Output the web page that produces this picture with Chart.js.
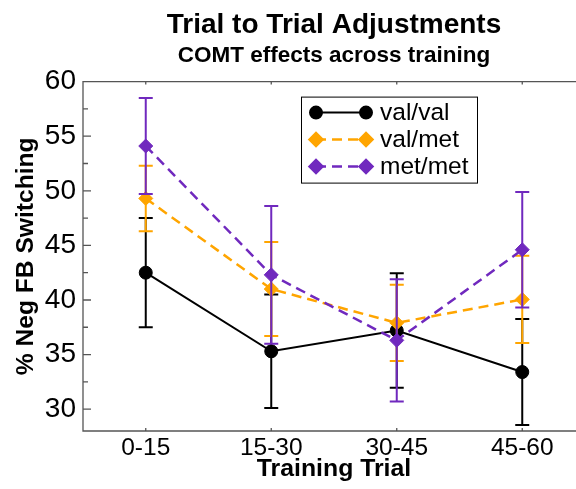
<!DOCTYPE html>
<html>
<head>
<meta charset="utf-8">
<script src="https://cdn.jsdelivr.net/npm/chart.js@4.4.1/dist/chart.umd.min.js"></script>
<style>
  html, body { margin: 0; padding: 0; background: #fff; overflow: hidden; }
  #chart { display: block; }
</style>
</head>
<body>
<canvas id="chart" width="605" height="489"></canvas>
<script>
const trials = ['0-15', '15-30', '30-45', '45-60'];
const valVal = [42.5, 35.3, 37.2, 33.4];
const valValErr = [5.0, 5.2, 5.25, 4.85];
const valMet = [49.3, 41.0, 37.9, 40.05];
const valMetErr = [3.0, 4.3, 3.5, 4.0];
const metMet = [54.1, 42.3, 36.3, 44.6];
const metMetErr = [4.4, 6.3, 5.6, 5.3];
const yTicks = [30, 35, 40, 45, 50, 55, 60];
const yMinorTicks = [32.5, 37.5, 42.5, 47.5, 52.5, 57.5];

const FONT = "'Liberation Sans', Arial, sans-serif";

// axis box: left, top and bottom lines with inward ticks
const axisFrame = {
  id: 'axisFrame',
  beforeDatasetsDraw(chart) {
    const { ctx, chartArea: a, scales: { x, y } } = chart;
    ctx.save();
    ctx.strokeStyle = '#555';
    ctx.lineWidth = 1.3;
    ctx.beginPath();
    ctx.moveTo(a.right, a.top); ctx.lineTo(a.left, a.top);
    ctx.lineTo(a.left, a.bottom); ctx.lineTo(a.right, a.bottom);
    yTicks.forEach(v => {
      const py = y.getPixelForValue(v);
      ctx.moveTo(a.left, py); ctx.lineTo(a.left + 8, py);
    });
    yMinorTicks.forEach(v => {
      const py = y.getPixelForValue(v);
      ctx.moveTo(a.left, py); ctx.lineTo(a.left + 5, py);
    });
    trials.forEach((t, i) => {
      const px = x.getPixelForValue(i);
      ctx.moveTo(px, a.top); ctx.lineTo(px, a.top + 3);
      ctx.moveTo(px, a.bottom); ctx.lineTo(px, a.bottom - 3);
    });
    ctx.stroke();
    ctx.restore();
  }
};

// error bars, drawn right after each dataset so they stack like the lines
const errorBars = {
  id: 'errorBars',
  afterDatasetDraw(chart, args) {
    const ds = chart.data.datasets[args.index];
    if (!ds.errors) return;
    const ctx = chart.ctx;
    const x = chart.scales.x, y = chart.scales.y;
    ctx.save();
    ctx.strokeStyle = ds.borderColor;
    ctx.lineWidth = 2;
    ctx.setLineDash([]);
    ctx.beginPath();
    ds.data.forEach((v, i) => {
      const px = x.getPixelForValue(i);
      const top = y.getPixelForValue(v + ds.errors[i]);
      const bot = y.getPixelForValue(v - ds.errors[i]);
      ctx.moveTo(px, top); ctx.lineTo(px, bot);
      ctx.moveTo(px - 7, top); ctx.lineTo(px + 7, top);
      ctx.moveTo(px - 7, bot); ctx.lineTo(px + 7, bot);
    });
    ctx.stroke();
    ctx.restore();
  }
};

// boxed legend with a marker at each end of the line sample
const boxLegend = {
  id: 'boxLegend',
  afterDraw(chart) {
    const { ctx, chartArea: a } = chart;
    const left = a.left + 218, top = a.top + 15;
    const w = 176, h = 86;
    ctx.save();
    ctx.fillStyle = '#fff';
    ctx.fillRect(left, top, w, h);
    ctx.strokeStyle = '#000';
    ctx.lineWidth = 1;
    ctx.strokeRect(left + 0.5, top + 0.5, w, h);
    chart.data.datasets.forEach((ds, i) => {
      const py = top + 16 + i * 27;
      const x1 = left + 15, x2 = left + 65;
      ctx.strokeStyle = ds.borderColor;
      ctx.lineWidth = ds.borderWidth;
      ctx.setLineDash(ds.borderDash || []);
      ctx.beginPath();
      ctx.moveTo(x1, py); ctx.lineTo(x2, py);
      ctx.stroke();
      ctx.setLineDash([]);
      [x1, x2].forEach(px => {
        Chart.helpers.drawPoint(ctx, {
          pointStyle: ds.pointStyle, radius: ds.pointRadius - 0.5,
          borderWidth: 1, rotation: 0
        }, px, py);
        ctx.fillStyle = ds.backgroundColor;
        ctx.strokeStyle = ds.borderColor;
        ctx.fill();
      });
      ctx.fillStyle = '#000';
      ctx.font = '24.5px ' + FONT;
      ctx.textBaseline = 'middle';
      ctx.textAlign = 'left';
      ctx.fillText(ds.label, left + 79, py + 1);
    });
    ctx.restore();
  }
};

new Chart(document.getElementById('chart'), {
  type: 'line',
  data: {
    labels: trials,
    datasets: [
      {
        label: 'val/val', data: valVal, errors: valValErr,
        borderColor: '#000', backgroundColor: '#000', borderWidth: 2,
        pointStyle: 'circle', pointRadius: 6.5, pointBorderWidth: 1, order: 3
      },
      {
        label: 'val/met', data: valMet, errors: valMetErr,
        borderColor: '#FFA500', backgroundColor: '#FFA500', borderWidth: 2.5,
        borderDash: [10, 6], pointStyle: 'rectRot', pointRadius: 7, pointBorderWidth: 1, order: 2
      },
      {
        label: 'met/met', data: metMet, errors: metMetErr,
        borderColor: '#7029BE', backgroundColor: '#7029BE', borderWidth: 2.5,
        borderDash: [10, 6], pointStyle: 'rectRot', pointRadius: 7, pointBorderWidth: 1, order: 1
      }
    ]
  },
  options: {
    responsive: false,
    animation: false,
    layout: { padding: { left: 0, right: 20, top: 0, bottom: 0 } },
    plugins: {
      legend: { display: false },
      tooltip: { enabled: false },
      title: {
        display: true, text: 'Trial to Trial Adjustments', color: '#000',
        fullSize: false,
        font: { family: FONT, size: 28, weight: 'bold' },
        padding: { top: 8, bottom: 0 }
      },
      subtitle: {
        display: true, text: 'COMT effects across training', color: '#000',
        fullSize: false,
        font: { family: FONT, size: 22.5, weight: 'bold' },
        padding: { top: 1, bottom: 12 }
      }
    },
    scales: {
      x: {
        type: 'category',
        offset: true,
        grid: { display: false, drawTicks: false },
        border: { display: false },
        ticks: { color: '#000', font: { family: FONT, size: 24.5 }, padding: 3, maxRotation: 0 },
        title: {
          display: true, text: 'Training Trial', color: '#000',
          font: { family: FONT, size: 24.8, weight: 'bold' }, padding: { top: 0, bottom: 5 }
        },
        afterFit(s) { s.height = 58; }
      },
      y: {
        min: 28,
        max: 60,
        grid: { display: false, drawTicks: false },
        border: { display: false },
        afterBuildTicks(s) { s.ticks = yTicks.map(v => ({ value: v })); },
        ticks: { color: '#000', font: { family: FONT, size: 28 }, padding: 7 },
        title: {
          display: true, text: '% Neg FB Switching', color: '#000',
          font: { family: FONT, size: 24.6, weight: 'bold' }, padding: { top: 11, bottom: 0 }
        },
        afterFit(s) { s.width = 83; }
      }
    }
  },
  plugins: [axisFrame, errorBars, boxLegend]
});
</script>
</body>
</html>
